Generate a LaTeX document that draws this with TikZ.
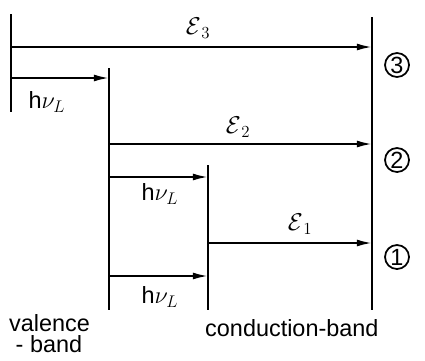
\documentclass[tikz,border=0pt]{standalone}
\usepackage{fontspec}
\setmainfont{Liberation Sans}
\usetikzlibrary{arrows.meta,positioning}

\begin{document}
\begin{tikzpicture}[
  x=0.03cm,y=-0.03cm,
  every node/.style={font=\fontsize{20}{22}\selectfont},
  bandline/.style={line width=1.7pt},
  trans/.style={line width=1.7pt,-{Latex[length=13pt,width=6pt]}},
  lvl/.style={draw,circle,line width=1.5pt,minimum size=0.72cm,inner sep=0pt},
]
  \useasboundingbox (0,0) rectangle (425,360);

  % band lines
  \draw[bandline] (11,14) -- (11,112);
  \draw[bandline] (109,68) -- (109,310);
  \draw[bandline] (208,165) -- (208,310);
  \draw[bandline] (372,17) -- (372,310);

  % end points of the transitions
  \coordinate (v3) at (11,47);   \coordinate (c3) at (372,47);
  \coordinate (v3a) at (11,78);  \coordinate (m3a) at (109,78);
  \coordinate (v2) at (109,144); \coordinate (c2) at (372,144);
  \coordinate (v2a) at (109,177); \coordinate (m2a) at (208,177);
  \coordinate (v1) at (208,243); \coordinate (c1) at (372,243);
  \coordinate (v1a) at (109,276); \coordinate (m1a) at (208,276);

  % transitions
  \draw[trans] (v3) -- (c3);
  \draw[trans] (v3a) -- (m3a);
  \draw[trans] (v2) -- (c2);
  \draw[trans] (v2a) -- (m2a);
  \draw[trans] (v1) -- (c1);
  \draw[trans] (v1a) -- (m1a);

  % labels
  \node (e3) at (198,28) {$\mathcal{E}_{\,3}$};
  \node (h3) at (47,102) {h$\nu_L$};
  \node (e2) at (238,127) {$\mathcal{E}_{\,2}$};
  \node (h2) at (160,194) {h$\nu_L$};
  \node (e1) at (300,224) {$\mathcal{E}_{\,1}$};
  \node (h1) at (160,297) {h$\nu_L$};

  % level numbers
  \node[lvl] (n3) at (397,65) {3};
  \node[lvl] (n2) at (397,160) {2};
  \node[lvl] (n1) at (397,257) {1};

  % band names
  \node[align=left,anchor=north west,inner sep=0pt] (vb) at (9,314)
    {valence\\[-4pt]\ - band};
  \node[anchor=north west,inner sep=0pt] (cb) at (205,319) {conduction-band};
\end{tikzpicture}
\end{document}
